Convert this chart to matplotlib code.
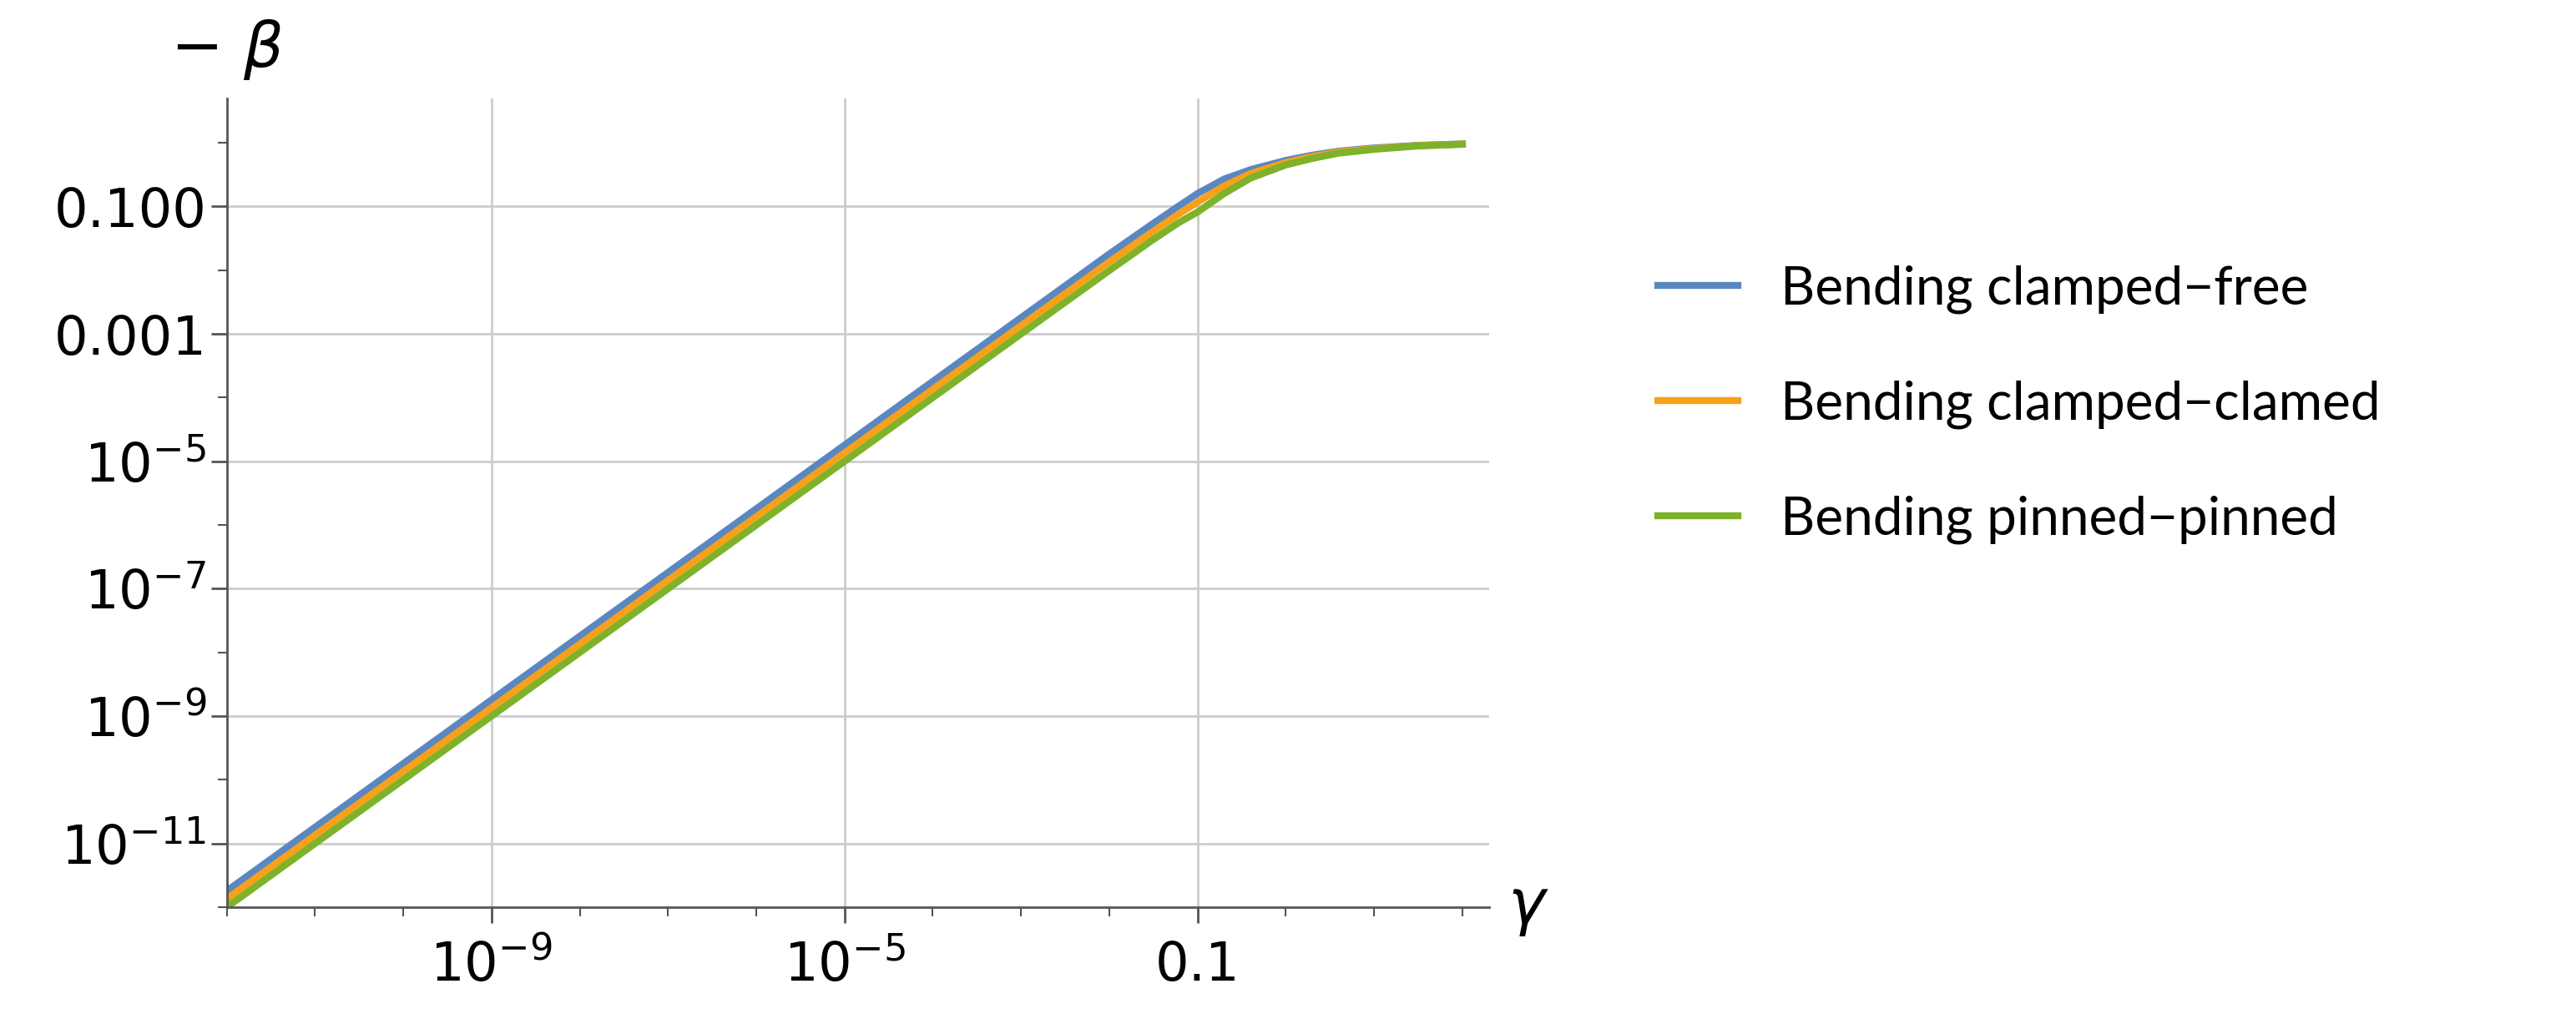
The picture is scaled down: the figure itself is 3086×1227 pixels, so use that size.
import matplotlib.pyplot as plt
from matplotlib.ticker import FixedLocator, NullFormatter

# gamma values (read at decades, denser near the knee)
gamma = [1e-12, 1e-11, 1e-10, 1e-9, 1e-8, 1e-7, 1e-6, 1e-5, 1e-4, 1e-3,
         1e-2, 3e-2, 6e-2, 1e-1, 2e-1, 4e-1, 1, 2, 4, 10, 30, 100]

beta_clamped_free = [1.8e-12, 1.8e-11, 1.8e-10, 1.8e-9, 1.8e-8, 1.8e-7, 1.8e-6, 1.8e-5, 1.8e-4, 1.8e-3,
                     0.018, 0.052, 0.10, 0.16, 0.27, 0.38, 0.53, 0.64, 0.74, 0.83, 0.91, 0.96]
beta_clamped_clamped = [1.35e-12, 1.35e-11, 1.35e-10, 1.35e-9, 1.35e-8, 1.35e-7, 1.35e-6, 1.35e-5, 1.35e-4, 1.35e-3,
                        0.0135, 0.039, 0.075, 0.117, 0.21, 0.33, 0.49, 0.61, 0.72, 0.81, 0.90, 0.955]
beta_pinned_pinned = [1.0e-12, 1.0e-11, 1.0e-10, 1.0e-9, 1.0e-8, 1.0e-7, 1.0e-6, 1.0e-5, 1.0e-4, 1.0e-3,
                      0.0099, 0.029, 0.055, 0.082, 0.16, 0.28, 0.45, 0.57, 0.69, 0.79, 0.89, 0.95]

labels = ['Bending clamped\u2212free', 'Bending clamped\u2212clamed', 'Bending pinned\u2212pinned']
colors = ['#5B87C0', '#F7A11A', '#7DB22A']

fig = plt.figure(figsize=(30.86, 12.27), dpi=100)
ax = fig.add_axes([0.088, 0.114, 0.49, 0.79])

for y, lab, c in zip([beta_clamped_free, beta_clamped_clamped, beta_pinned_pinned], labels, colors):
    ax.plot(gamma, y, color=c, lw=6, label=lab)

ax.set_xscale('log')
ax.set_yscale('log')
ax.set_xlim(1e-12, 200)
ax.set_ylim(1e-12, 5)

ax.xaxis.set_major_locator(FixedLocator([1e-9, 1e-5, 1e-1]))
ax.set_xticklabels([r'$10^{-9}$', r'$10^{-5}$', '0.1'])
ax.xaxis.set_minor_locator(FixedLocator([10.0 ** k for k in range(-12, 3)]))
ax.xaxis.set_minor_formatter(NullFormatter())

ax.yaxis.set_major_locator(FixedLocator([1e-1, 1e-3, 1e-5, 1e-7, 1e-9, 1e-11]))
ax.set_yticklabels(['0.100', '0.001', r'$10^{-5}$', r'$10^{-7}$', r'$10^{-9}$', r'$10^{-11}$'])
ax.yaxis.set_minor_locator(FixedLocator([10.0 ** k for k in range(-12, 1)]))
ax.yaxis.set_minor_formatter(NullFormatter())

ax.grid(True, which='major', color='#CCCCCC', lw=2)
ax.tick_params(which='major', labelsize=46, length=14, width=2, color='#555555')
ax.tick_params(which='minor', length=8, width=1.5, color='#555555')
ax.tick_params(axis='x', pad=14)
for s in ['top', 'right']:
    ax.spines[s].set_visible(False)
for s in ['left', 'bottom']:
    ax.spines[s].set_color('#555555')
    ax.spines[s].set_linewidth(2)

ax.text(1.015, 0.0, r'$\gamma$', transform=ax.transAxes, fontsize=54, va='center', ha='left')
ax.text(0.0, 1.02, r'$-\ \beta$', transform=ax.transAxes, fontsize=54, va='bottom', ha='center')

fig.legend(loc='center left', bbox_to_anchor=(0.625, 0.605), frameon=False,
           prop={'family': 'Lato', 'size': 46},
           handlelength=1.5, labelspacing=1.25, handletextpad=0.8)

fig.savefig('out.png', dpi=100)
